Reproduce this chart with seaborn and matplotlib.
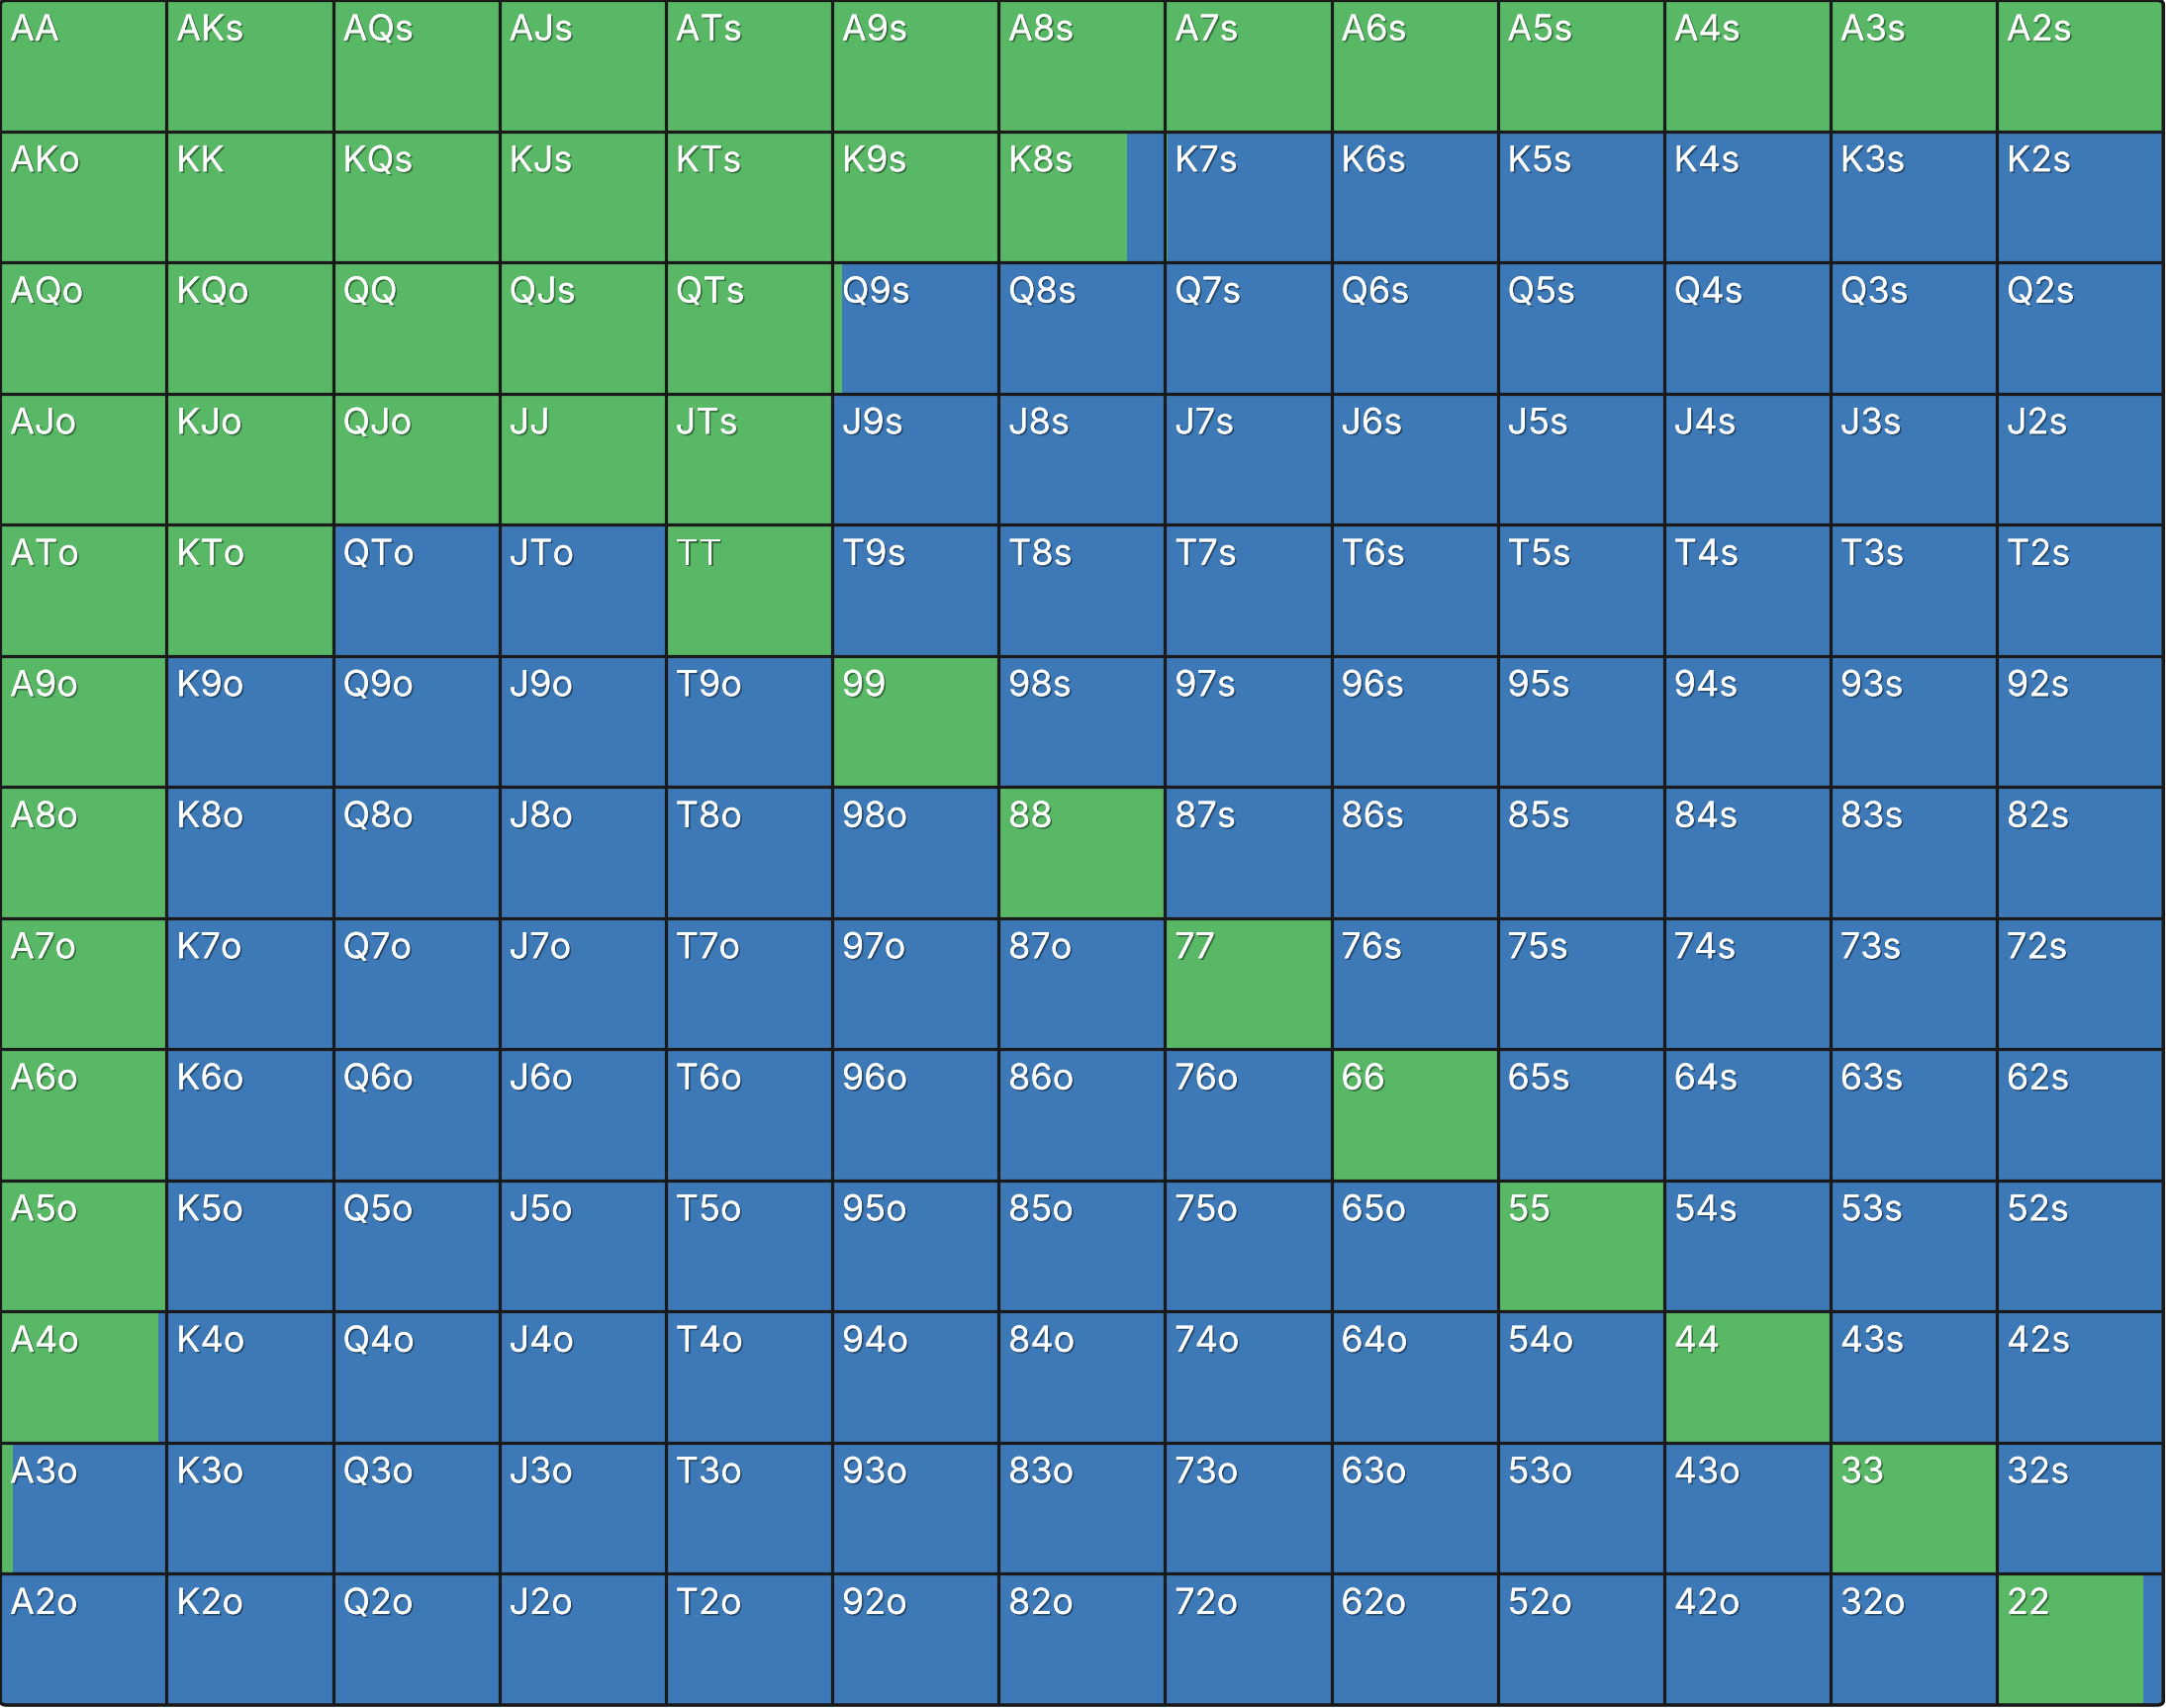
import numpy as np
import pandas as pd
import seaborn as sns
import matplotlib.pyplot as plt
import matplotlib.patheffects as pe
from matplotlib.colors import ListedColormap
from matplotlib.patches import FancyBboxPatch

ranks = ['A', 'K', 'Q', 'J', 'T', '9', '8', '7', '6', '5', '4', '3', '2']

# share of each hand played as the green action (rest is blue), row = first rank
green_freq = [
    [1, 1, 1, 1, 1, 1, 1, 1, 1, 1, 1, 1, 1],
    [1, 1, 1, 1, 1, 1, 0.77, 0.015, 0, 0, 0, 0, 0],
    [1, 1, 1, 1, 1, 0.06, 0, 0, 0, 0, 0, 0, 0],
    [1, 1, 1, 1, 1, 0, 0, 0, 0, 0, 0, 0, 0],
    [1, 1, 0, 0, 1, 0, 0, 0, 0, 0, 0, 0, 0],
    [1, 0, 0, 0, 0, 1, 0, 0, 0, 0, 0, 0, 0],
    [1, 0, 0, 0, 0, 0, 1, 0, 0, 0, 0, 0, 0],
    [1, 0, 0, 0, 0, 0, 0, 1, 0, 0, 0, 0, 0],
    [1, 0, 0, 0, 0, 0, 0, 0, 1, 0, 0, 0, 0],
    [1, 0, 0, 0, 0, 0, 0, 0, 0, 1, 0, 0, 0],
    [0.95, 0, 0, 0, 0, 0, 0, 0, 0, 0, 1, 0, 0],
    [0.075, 0, 0, 0, 0, 0, 0, 0, 0, 0, 0, 1, 0],
    [0, 0, 0, 0, 0, 0, 0, 0, 0, 0, 0, 0, 0.88],
]

green = '#59b866'
blue = '#3d79b6'
line_col = '#1a1a1a'


def hand_name(i, j):
    if i == j:
        return ranks[i] + ranks[j]
    if i < j:
        return ranks[i] + ranks[j] + 's'
    return ranks[j] + ranks[i] + 'o'


n = len(ranks)
labels = [[hand_name(i, j) for j in range(n)] for i in range(n)]
base = pd.DataFrame(np.zeros((n, n)), index=ranks, columns=ranks)

fig = plt.figure(figsize=(21.89, 17.26), dpi=100, facecolor='white')
W, H = 2189, 1726
ax = fig.add_axes([0.3 / W, (H - 1723) / H, 2186 / W, 1722.7 / H])

# blue base grid
sns.heatmap(base, cmap=ListedColormap([blue]), cbar=False, ax=ax,
            xticklabels=False, yticklabels=False)

# green share drawn from the left of each cell
for i in range(n):
    ax.barh([i + 0.5] * n, green_freq[i], left=np.arange(n), height=1,
            color=green, edgecolor='none', zorder=2)

ax.vlines(np.arange(1, n), 0, n, colors=line_col, linewidth=2.3, zorder=3)
ax.hlines(np.arange(1, n), 0, n, colors=line_col, linewidth=2.3, zorder=3)

border = FancyBboxPatch((0, 0), n, n, boxstyle='round,pad=0,rounding_size=0.04',
                        facecolor='none', edgecolor=line_col, linewidth=2.6,
                        zorder=5, clip_on=False, mutation_aspect=0.8)
ax.add_patch(border)
for art in ax.collections + ax.patches[:-1]:
    art.set_clip_path(border)

shadow = [pe.withSimplePatchShadow(offset=(1.2, -1.2), shadow_rgbFace='black', alpha=0.4),
          pe.Normal()]
for i in range(n):
    for j in range(n):
        ax.text(j + 0.058, i + 0.305, labels[i][j], color='white', fontsize=26,
                family=['Inter', 'DejaVu Sans'], ha='left', va='baseline',
                zorder=6, path_effects=shadow)

ax.set_xlim(0, n)
ax.set_ylim(n, 0)
ax.axis('off')

fig.savefig('out.png', dpi=100, facecolor='white')
